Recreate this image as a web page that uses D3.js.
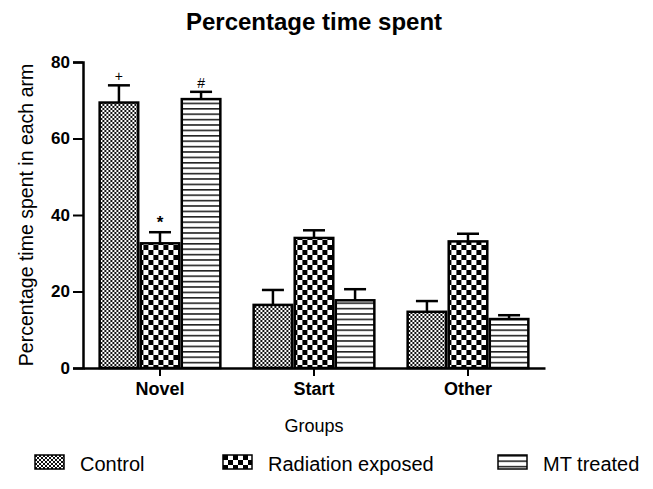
<!DOCTYPE html>
<html>
<head>
<meta charset="utf-8">
<script src="https://cdn.jsdelivr.net/npm/d3@7"></script>
<style>
  body { margin: 0; background: #fff; }
  svg { display: block; font-family: "Liberation Sans", Arial, sans-serif; }
</style>
</head>
<body>
<svg id="chart"></svg>
<script>
const groups = ['Novel', 'Start', 'Other'];
const series = ['Control', 'Radiation exposed', 'MT treated'];
const control = [69.4, 16.5, 14.7];
const controlErr = [4.5, 3.9, 2.8];
const radiation = [32.6, 34.0, 33.1];
const radiationErr = [2.9, 2.0, 2.0];
const mtTreated = [70.3, 17.7, 12.8];
const mtTreatedErr = [1.9, 2.9, 1.0];
const novelMarks = ['+', '*', '#'];
const yTicks = [0, 20, 40, 60, 80];

const width = 653;
const height = 489;
const margin = { top: 62, right: 108, bottom: 121, left: 83 };

const svg = d3.select('#chart')
    .attr('width', width)
    .attr('height', height);

// patterns for the three series
const defs = svg.append('defs');

const p1 = defs.append('pattern').attr('id', 'pat0')
    .attr('patternUnits', 'userSpaceOnUse').attr('width', 4).attr('height', 4);
p1.append('rect').attr('width', 4).attr('height', 4).attr('fill', '#fff');
p1.append('rect').attr('width', 2).attr('height', 2).attr('fill', '#111');
p1.append('rect').attr('x', 2).attr('y', 2).attr('width', 2).attr('height', 2).attr('fill', '#111');

const p2 = defs.append('pattern').attr('id', 'pat1')
    .attr('patternUnits', 'userSpaceOnUse').attr('width', 10).attr('height', 10);
p2.append('rect').attr('width', 10).attr('height', 10).attr('fill', '#fff');
p2.append('rect').attr('width', 5).attr('height', 5).attr('fill', '#000');
p2.append('rect').attr('x', 5).attr('y', 5).attr('width', 5).attr('height', 5).attr('fill', '#000');

const p3 = defs.append('pattern').attr('id', 'pat2')
    .attr('patternUnits', 'userSpaceOnUse').attr('width', 8).attr('height', 5.4);
p3.append('rect').attr('width', 8).attr('height', 5.4).attr('fill', '#fff');
p3.append('rect').attr('y', 0).attr('width', 8).attr('height', 1.6).attr('fill', '#222');

const data = groups.map((g, i) => ({
    group: g,
    values: [
        { key: series[0], v: control[i], e: controlErr[i], mark: i === 0 ? novelMarks[0] : null },
        { key: series[1], v: radiation[i], e: radiationErr[i], mark: i === 0 ? novelMarks[1] : null },
        { key: series[2], v: mtTreated[i], e: mtTreatedErr[i], mark: i === 0 ? novelMarks[2] : null }
    ]
}));

const xScale = d3.scaleBand()
    .domain(groups)
    .range([margin.left, width - margin.right])
    .paddingInner(0.2)
    .paddingOuter(0.1);

const xSub = d3.scaleBand()
    .domain(series)
    .range([0, xScale.bandwidth()]);

const yScale = d3.scaleLinear()
    .domain([0, 80])
    .range([height - margin.bottom, margin.top]);

const fill = d3.scaleOrdinal().domain(series).range(['url(#pat0)', 'url(#pat1)', 'url(#pat2)']);

// bars
const gBars = svg.append('g')
    .selectAll('g')
    .data(data)
    .join('g')
    .attr('transform', d => `translate(${xScale(d.group)},0)`);

// error bars (upward only)
gBars.selectAll('line.err')
    .data(d => d.values)
    .join('line')
    .attr('class', 'err')
    .attr('x1', d => xSub(d.key) + xSub.bandwidth() / 2)
    .attr('x2', d => xSub(d.key) + xSub.bandwidth() / 2)
    .attr('y1', d => yScale(d.v))
    .attr('y2', d => yScale(d.v + d.e))
    .attr('stroke', '#000').attr('stroke-width', 2.5);

gBars.selectAll('line.cap')
    .data(d => d.values)
    .join('line')
    .attr('class', 'cap')
    .attr('x1', d => xSub(d.key) + xSub.bandwidth() / 2 - 11)
    .attr('x2', d => xSub(d.key) + xSub.bandwidth() / 2 + 11)
    .attr('y1', d => yScale(d.v + d.e))
    .attr('y2', d => yScale(d.v + d.e))
    .attr('stroke', '#000').attr('stroke-width', 2.5);

gBars.selectAll('rect')
    .data(d => d.values)
    .join('rect')
    .attr('x', d => xSub(d.key) + 1.25)
    .attr('y', d => yScale(d.v))
    .attr('width', xSub.bandwidth() - 2.5)
    .attr('height', d => yScale(0) - yScale(d.v))
    .attr('fill', d => fill(d.key))
    .attr('stroke', '#000')
    .attr('stroke-width', 2.5);

// significance marks
gBars.selectAll('text.mark')
    .data(d => d.values.filter(v => v.mark))
    .join('text')
    .attr('class', 'mark')
    .attr('x', d => xSub(d.key) + xSub.bandwidth() / 2)
    .attr('y', d => yScale(d.v + d.e) - 4)
    .attr('text-anchor', 'middle')
    .style('font-size', d => d.mark === '*' ? '17px' : '14px')
    .style('font-weight', d => d.mark === '*' ? 'bold' : 'normal')
    .text(d => d.mark);

// axes
const yAxis = d3.axisLeft(yScale).tickValues(yTicks).tickSize(10).tickPadding(3);
const yAxisG = svg.append('g')
    .attr('transform', `translate(${margin.left},0)`)
    .call(yAxis);
yAxisG.select('.domain').attr('stroke-width', 2.5);
yAxisG.selectAll('.tick line').attr('stroke-width', 2);
yAxisG.selectAll('.tick text')
    .style('font-size', '17px').style('font-weight', 'bold')
    .style('font-family', '"Liberation Sans", Arial, sans-serif')
    .attr('fill', '#000');

const xAxis = d3.axisBottom(xScale).tickSize(8).tickSizeOuter(0).tickPadding(6);
const xAxisG = svg.append('g')
    .attr('transform', `translate(0,${yScale(0)})`)
    .call(xAxis);
xAxisG.select('.domain').attr('stroke-width', 2.5);
xAxisG.selectAll('.tick line').attr('stroke-width', 2);
xAxisG.selectAll('.tick text')
    .style('font-size', '18px').style('font-weight', 'bold')
    .style('font-family', '"Liberation Sans", Arial, sans-serif')
    .attr('fill', '#000');

// title and axis labels
svg.append('text')
    .attr('x', (margin.left + width - margin.right) / 2)
    .attr('y', 30)
    .attr('text-anchor', 'middle')
    .style('font-size', '24px').style('font-weight', 'bold')
    .text('Percentage time spent');

svg.append('text')
    .attr('transform', `translate(33,${(yScale(0) + yScale(80)) / 2}) rotate(-90)`)
    .attr('text-anchor', 'middle')
    .style('font-size', '19.5px')
    .text('Percentage time spent in each arm');

svg.append('text')
    .attr('x', (margin.left + width - margin.right) / 2)
    .attr('y', 432)
    .attr('text-anchor', 'middle')
    .style('font-size', '18px')
    .text('Groups');

// legend
const legendX = [35, 223, 498];
const legend = svg.append('g')
    .selectAll('g')
    .data(series)
    .join('g')
    .attr('transform', (d, i) => `translate(${legendX[i]},455)`);

legend.append('rect')
    .attr('width', 29).attr('height', 14)
    .attr('fill', d => fill(d))
    .attr('stroke', '#000').attr('stroke-width', 1.5);

legend.append('text')
    .attr('x', 45).attr('y', 16)
    .style('font-size', '20px')
    .text(d => d);
</script>
</body>
</html>
